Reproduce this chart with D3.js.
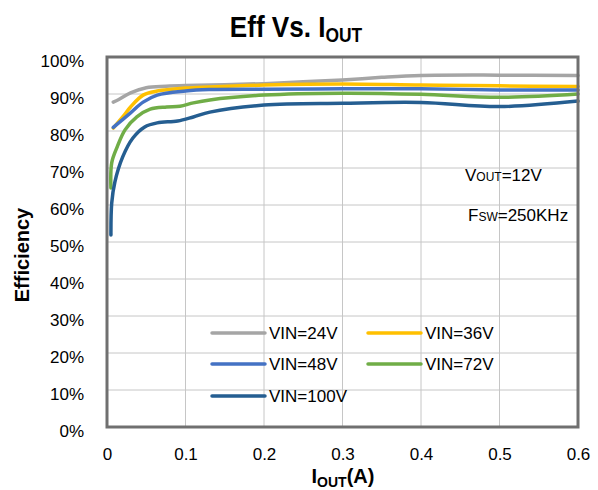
<!DOCTYPE html>
<html>
<head>
<meta charset="utf-8">
<script src="https://cdn.jsdelivr.net/npm/d3@7"></script>
<style>
  body { margin: 0; background: #fff; }
  svg { font-family: "Liberation Sans", Arial, sans-serif; }
  .grid line { stroke: #c6c6c6; stroke-width: 1; }
  .tick text { font-size: 17px; fill: #000; }
  .series { fill: none; stroke-width: 3.5; stroke-linecap: round; }
</style>
</head>
<body>
<div id="chart"></div>
<script>
// current in A, efficiency in %
const vin24 = [[0.008,87.8],[0.015,88.5],[0.03,90.3],[0.05,91.7],[0.075,92.1],[0.1,92.3],[0.15,92.5],[0.2,92.8],[0.25,93.3],[0.3,93.8],[0.35,94.5],[0.4,95],[0.5,95.1],[0.6,95]]
const vin36 = [[0.008,80.8],[0.02,83.8],[0.03,86.5],[0.046,89.7],[0.064,90.8],[0.1,91.6],[0.13,91.9],[0.2,92.4],[0.3,92.7],[0.4,92.4],[0.5,92.2],[0.6,92]]
const vin48 = [[0.008,81],[0.03,84.9],[0.046,87.8],[0.064,89.7],[0.1,90.8],[0.13,91.2],[0.2,91.3],[0.3,91.4],[0.4,91.4],[0.5,91.1],[0.6,91.1]]
const vin72 = [[0.005,64.6],[0.006,71.4],[0.013,75.7],[0.023,80.3],[0.038,83.8],[0.055,85.9],[0.076,86.5],[0.093,86.7],[0.11,87.6],[0.131,88.4],[0.2,89.7],[0.3,90.2],[0.4,89.9],[0.5,89.1],[0.6,90]]
const vin100 = [[0.005,51.9],[0.006,60.5],[0.01,66.2],[0.02,73],[0.033,78.1],[0.048,81.1],[0.064,82.2],[0.09,82.7],[0.11,83.8],[0.131,85.1],[0.2,87],[0.3,87.5],[0.4,87.7],[0.5,86.6],[0.6,88.1]]

const seriesNames = ['VIN=24V', 'VIN=36V', 'VIN=48V', 'VIN=72V', 'VIN=100V']
const seriesData = [vin24, vin36, vin48, vin72, vin100]
const seriesColors = ['#a5a5a5', '#ffc000', '#4472c4', '#70ad47', '#255e91']

const xTicks = [0, 0.1, 0.2, 0.3, 0.4, 0.5, 0.6]
const yTicks = [0, 10, 20, 30, 40, 50, 60, 70, 80, 90, 100]

const W = 598, H = 490
const plot = { left: 107, right: 578, top: 57, bottom: 427 }

var svg = d3.select('#chart').append('svg')
    .attr('width', W)
    .attr('height', H)

var x = d3.scaleLinear().domain([0, 0.6]).range([plot.left, plot.right])
var y = d3.scaleLinear().domain([0, 100]).range([plot.bottom, plot.top])

// gridlines
var grid = svg.append('g').attr('class', 'grid')
grid.selectAll('.gx').data(xTicks).enter().append('line')
    .attr('x1', d => x(d)).attr('x2', d => x(d))
    .attr('y1', plot.top).attr('y2', plot.bottom)
grid.selectAll('.gy').data(yTicks).enter().append('line')
    .attr('x1', plot.left).attr('x2', plot.right)
    .attr('y1', d => y(d)).attr('y2', d => y(d))

// axes (labels only, no tick marks)
var xAxis = svg.append('g')
    .attr('transform', 'translate(0,' + (plot.bottom + 18) + ')')
    .call(d3.axisBottom(x).tickValues(xTicks).tickSize(0).tickFormat(d => d === 0 ? '0' : d3.format('.1f')(d)))
xAxis.select('.domain').remove()

var yAxis = svg.append('g')
    .attr('transform', 'translate(' + (plot.left - 20) + ',0)')
    .call(d3.axisLeft(y).tickValues(yTicks).tickSize(0).tickFormat(d => d + '%'))
yAxis.select('.domain').remove()
yAxis.selectAll('text').attr('dy', '0.55em')

// series lines
var line = d3.line()
    .x(d => x(d[0]))
    .y(d => y(d[1]))
    .curve(d3.curveCatmullRom.alpha(0.5))

svg.selectAll('.series').data(seriesData).enter().append('path')
    .attr('class', 'series')
    .attr('d', line)
    .attr('stroke', (d, i) => seriesColors[i])

// plot border
svg.append('rect')
    .attr('x', plot.left).attr('y', plot.top)
    .attr('width', plot.right - plot.left).attr('height', plot.bottom - plot.top)
    .attr('fill', 'none').attr('stroke', '#707070').attr('stroke-width', 3)

// legend
var legendPos = [[212, 333], [368, 333], [212, 364], [368, 364], [212, 396]]
var legend = svg.selectAll('.legend').data(seriesNames).enter().append('g')
    .attr('transform', (d, i) => 'translate(' + legendPos[i][0] + ',' + legendPos[i][1] + ')')
legend.append('line')
    .attr('x1', 0).attr('x2', 53).attr('y1', 0).attr('y2', 0)
    .attr('stroke', (d, i) => seriesColors[i])
    .attr('stroke-width', 3.5).attr('stroke-linecap', 'round')
legend.append('text')
    .attr('x', 57).attr('y', 6)
    .attr('font-size', 17)
    .text(d => d)

// notes
function note(xp, yp, main, sub, rest) {
    var t = svg.append('text').attr('x', xp).attr('y', yp).attr('font-size', 17)
    t.append('tspan').text(main)
    t.append('tspan').attr('font-size', 12).text(sub)
    t.append('tspan').text(rest)
}
note(465, 181, 'V', 'OUT', '=12V')
note(468, 221, 'F', 'SW', '=250KHz')

// title
var title = svg.append('text')
    .attr('transform', 'translate(296,37) scale(0.87,1)')
    .attr('text-anchor', 'middle')
    .attr('font-size', 30).attr('font-weight', 'bold')
title.append('tspan').text('Eff Vs. I')
title.append('tspan').attr('font-size', 20).attr('dy', 5).text('OUT')

// axis titles
var xt = svg.append('text')
    .attr('x', 343).attr('y', 483)
    .attr('text-anchor', 'middle')
    .attr('font-size', 20).attr('font-weight', 'bold')
xt.append('tspan').text('I')
xt.append('tspan').attr('font-size', 14).attr('dy', 4).text('OUT')
xt.append('tspan').attr('dy', -4).text('(A)')

svg.append('text')
    .attr('transform', 'translate(29,255) rotate(-90)')
    .attr('text-anchor', 'middle')
    .attr('font-size', 20).attr('font-weight', 'bold')
    .text('Efficiency')
</script>
</body>
</html>
